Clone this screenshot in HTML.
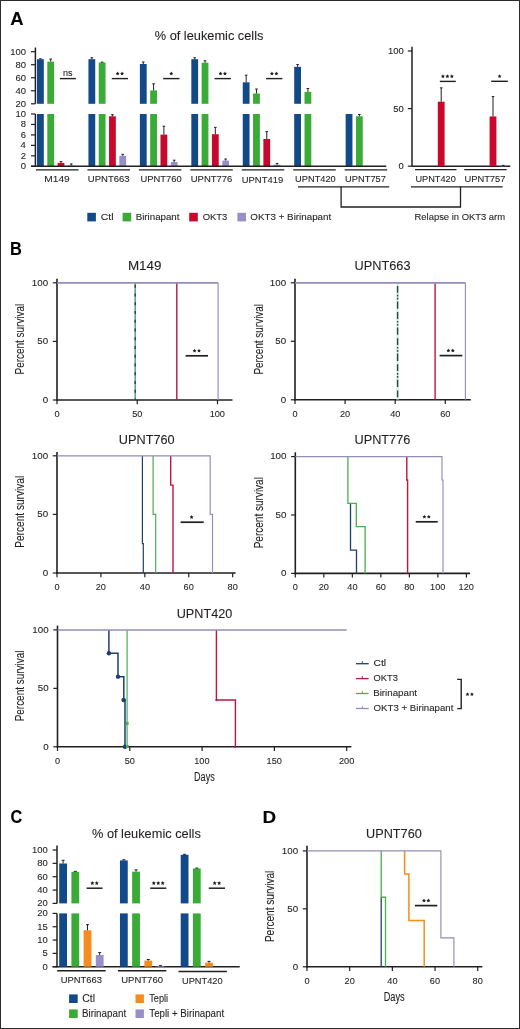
<!DOCTYPE html>
<html><head><meta charset="utf-8"><title>Figure</title>
<style>
html,body{margin:0;padding:0;background:#fff;}
body{width:520px;height:1029px;overflow:hidden;position:relative;font-family:"Liberation Sans",sans-serif;}
.frame{position:absolute;left:0;top:0;width:518px;height:1027px;border:1px solid #2b2b2b;}
svg{position:absolute;left:0;top:0;will-change:transform;}
svg text{font-family:"Liberation Sans",sans-serif;stroke:#231f20;stroke-width:0.1px;paint-order:stroke;}
</style></head>
<body>
<div class="frame"></div>
<svg width="520" height="1029" viewBox="0 0 520 1029">
<text transform="translate(10.14 24.80) scale(1.0092 1)" font-size="18.31" font-weight="bold" fill="#000">A</text>
<text transform="translate(10.10 255.30) scale(0.9098 1)" font-size="18.02" font-weight="bold" fill="#000">B</text>
<text transform="translate(10.54 822.60) scale(0.8852 1)" font-size="18.31" font-weight="bold" fill="#000">C</text>
<text transform="translate(262.53 822.60) scale(1.1415 1)" font-size="16.57" font-weight="bold" fill="#000">D</text>
<text transform="translate(154.74 40.00) scale(0.9667 1)" font-size="13.23" fill="#231f20">% of leukemic cells</text>
<line x1="35.40" y1="47.50" x2="35.40" y2="103.80" stroke="#231f20" stroke-width="1.50"/>
<line x1="35.40" y1="114.00" x2="35.40" y2="166.80" stroke="#231f20" stroke-width="1.50"/>
<line x1="31.00" y1="51.70" x2="35.40" y2="51.70" stroke="#231f20" stroke-width="1.20"/>
<text transform="translate(10.15 54.60) scale(1.0039 1)" font-size="9.45" fill="#231f20">100</text>
<line x1="31.00" y1="64.72" x2="35.40" y2="64.72" stroke="#231f20" stroke-width="1.20"/>
<text transform="translate(15.42 67.62) scale(1.0039 1)" font-size="9.45" fill="#231f20">80</text>
<line x1="31.00" y1="77.75" x2="35.40" y2="77.75" stroke="#231f20" stroke-width="1.20"/>
<text transform="translate(15.42 80.65) scale(1.0039 1)" font-size="9.45" fill="#231f20">60</text>
<line x1="31.00" y1="90.77" x2="35.40" y2="90.77" stroke="#231f20" stroke-width="1.20"/>
<text transform="translate(15.42 93.67) scale(1.0039 1)" font-size="9.45" fill="#231f20">40</text>
<line x1="31.00" y1="103.80" x2="35.40" y2="103.80" stroke="#231f20" stroke-width="1.20"/>
<text transform="translate(15.42 106.70) scale(1.0039 1)" font-size="9.45" fill="#231f20">20</text>
<line x1="31.00" y1="114.00" x2="35.40" y2="114.00" stroke="#231f20" stroke-width="1.20"/>
<text transform="translate(15.42 116.90) scale(1.0039 1)" font-size="9.45" fill="#231f20">10</text>
<line x1="31.00" y1="124.46" x2="35.40" y2="124.46" stroke="#231f20" stroke-width="1.20"/>
<text transform="translate(20.74 127.36) scale(1.0039 1)" font-size="9.45" fill="#231f20">8</text>
<line x1="31.00" y1="134.92" x2="35.40" y2="134.92" stroke="#231f20" stroke-width="1.20"/>
<text transform="translate(20.74 137.82) scale(1.0039 1)" font-size="9.45" fill="#231f20">6</text>
<line x1="31.00" y1="145.38" x2="35.40" y2="145.38" stroke="#231f20" stroke-width="1.20"/>
<text transform="translate(20.60 148.28) scale(1.0039 1)" font-size="9.45" fill="#231f20">4</text>
<line x1="31.00" y1="155.84" x2="35.40" y2="155.84" stroke="#231f20" stroke-width="1.20"/>
<text transform="translate(20.80 158.74) scale(1.0039 1)" font-size="9.45" fill="#231f20">2</text>
<line x1="31.00" y1="166.30" x2="35.40" y2="166.30" stroke="#231f20" stroke-width="1.20"/>
<text transform="translate(20.70 169.20) scale(1.0039 1)" font-size="9.45" fill="#231f20">0</text>
<rect x="37.00" y="59.19" width="6.80" height="44.61" fill="#124a89"/>
<rect x="37.00" y="114.00" width="6.80" height="52.30" fill="#124a89"/>
<line x1="40.40" y1="59.19" x2="40.40" y2="58.80" stroke="#231f20" stroke-width="1.00"/>
<line x1="39.10" y1="58.80" x2="41.70" y2="58.80" stroke="#231f20" stroke-width="1.00"/>
<rect x="47.30" y="61.66" width="6.80" height="42.14" fill="#3aab36"/>
<rect x="47.30" y="114.00" width="6.80" height="52.30" fill="#3aab36"/>
<line x1="50.70" y1="61.66" x2="50.70" y2="59.06" stroke="#231f20" stroke-width="1.00"/>
<line x1="49.40" y1="59.06" x2="52.00" y2="59.06" stroke="#231f20" stroke-width="1.00"/>
<rect x="57.60" y="162.90" width="6.80" height="3.40" fill="#c9092c"/>
<line x1="61.00" y1="162.90" x2="61.00" y2="161.59" stroke="#231f20" stroke-width="1.00"/>
<line x1="59.70" y1="161.59" x2="62.30" y2="161.59" stroke="#231f20" stroke-width="1.00"/>
<rect x="67.90" y="165.52" width="6.80" height="0.78" fill="#978fca"/>
<line x1="71.30" y1="165.52" x2="71.30" y2="163.95" stroke="#231f20" stroke-width="1.00"/>
<line x1="70.00" y1="163.95" x2="72.60" y2="163.95" stroke="#231f20" stroke-width="1.00"/>
<line x1="36.00" y1="169.80" x2="78.50" y2="169.80" stroke="#231f20" stroke-width="1.30"/>
<text transform="translate(44.37 182.00) scale(1.0591 1)" font-size="9.59" fill="#231f20">M149</text>
<line x1="59.90" y1="78.60" x2="75.90" y2="78.60" stroke="#231f20" stroke-width="1.40"/>
<text transform="translate(63.10 75.80) scale(0.9695 1)" font-size="9.30" fill="#231f20">ns</text>
<rect x="88.44" y="59.19" width="6.80" height="44.61" fill="#124a89"/>
<rect x="88.44" y="114.00" width="6.80" height="52.30" fill="#124a89"/>
<line x1="91.84" y1="59.19" x2="91.84" y2="57.75" stroke="#231f20" stroke-width="1.00"/>
<line x1="90.54" y1="57.75" x2="93.14" y2="57.75" stroke="#231f20" stroke-width="1.00"/>
<rect x="98.74" y="62.51" width="6.80" height="41.29" fill="#3aab36"/>
<rect x="98.74" y="114.00" width="6.80" height="52.30" fill="#3aab36"/>
<line x1="102.14" y1="62.51" x2="102.14" y2="62.12" stroke="#231f20" stroke-width="1.00"/>
<line x1="100.84" y1="62.12" x2="103.44" y2="62.12" stroke="#231f20" stroke-width="1.00"/>
<rect x="109.04" y="116.30" width="6.80" height="50.00" fill="#c9092c"/>
<line x1="112.44" y1="116.30" x2="112.44" y2="114.73" stroke="#231f20" stroke-width="1.00"/>
<line x1="111.14" y1="114.73" x2="113.74" y2="114.73" stroke="#231f20" stroke-width="1.00"/>
<rect x="119.34" y="155.84" width="6.80" height="10.46" fill="#978fca"/>
<line x1="122.74" y1="155.84" x2="122.74" y2="154.38" stroke="#231f20" stroke-width="1.00"/>
<line x1="121.44" y1="154.38" x2="124.04" y2="154.38" stroke="#231f20" stroke-width="1.00"/>
<line x1="87.44" y1="169.80" x2="129.94" y2="169.80" stroke="#231f20" stroke-width="1.30"/>
<text transform="translate(87.87 182.10) scale(0.9912 1)" font-size="9.59" fill="#231f20">UPNT663</text>
<line x1="111.74" y1="78.60" x2="128.04" y2="78.60" stroke="#231f20" stroke-width="1.40"/>
<polygon points="117.62,71.50 118.23,72.75 119.61,72.95 118.61,73.92 118.85,75.30 117.62,74.65 116.38,75.30 116.62,73.92 115.62,72.95 117.00,72.75" fill="#231f20"/>
<polygon points="122.07,71.50 122.68,72.75 124.06,72.95 123.06,73.92 123.30,75.30 122.07,74.65 120.83,75.30 121.07,73.92 120.07,72.95 121.45,72.75" fill="#231f20"/>
<rect x="139.88" y="64.01" width="6.80" height="39.79" fill="#124a89"/>
<rect x="139.88" y="114.00" width="6.80" height="52.30" fill="#124a89"/>
<line x1="143.28" y1="64.01" x2="143.28" y2="61.99" stroke="#231f20" stroke-width="1.00"/>
<line x1="141.98" y1="61.99" x2="144.58" y2="61.99" stroke="#231f20" stroke-width="1.00"/>
<rect x="150.18" y="90.38" width="6.80" height="13.42" fill="#3aab36"/>
<rect x="150.18" y="114.00" width="6.80" height="52.30" fill="#3aab36"/>
<line x1="153.58" y1="90.38" x2="153.58" y2="83.81" stroke="#231f20" stroke-width="1.00"/>
<line x1="152.28" y1="83.81" x2="154.88" y2="83.81" stroke="#231f20" stroke-width="1.00"/>
<rect x="160.48" y="134.61" width="6.80" height="31.69" fill="#c9092c"/>
<line x1="163.88" y1="134.61" x2="163.88" y2="126.24" stroke="#231f20" stroke-width="1.00"/>
<line x1="162.58" y1="126.24" x2="165.18" y2="126.24" stroke="#231f20" stroke-width="1.00"/>
<rect x="170.78" y="162.01" width="6.80" height="4.29" fill="#978fca"/>
<line x1="174.18" y1="162.01" x2="174.18" y2="160.18" stroke="#231f20" stroke-width="1.00"/>
<line x1="172.88" y1="160.18" x2="175.48" y2="160.18" stroke="#231f20" stroke-width="1.00"/>
<line x1="138.88" y1="169.80" x2="181.38" y2="169.80" stroke="#231f20" stroke-width="1.30"/>
<text transform="translate(140.47 182.20) scale(0.9804 1)" font-size="9.59" fill="#231f20">UPNT760</text>
<line x1="163.18" y1="78.60" x2="179.48" y2="78.60" stroke="#231f20" stroke-width="1.40"/>
<polygon points="171.28,71.50 171.90,72.75 173.28,72.95 172.28,73.92 172.51,75.30 171.28,74.65 170.05,75.30 170.28,73.92 169.28,72.95 170.66,72.75" fill="#231f20"/>
<rect x="191.32" y="59.19" width="6.80" height="44.61" fill="#124a89"/>
<rect x="191.32" y="114.00" width="6.80" height="52.30" fill="#124a89"/>
<line x1="194.72" y1="59.19" x2="194.72" y2="57.75" stroke="#231f20" stroke-width="1.00"/>
<line x1="193.42" y1="57.75" x2="196.02" y2="57.75" stroke="#231f20" stroke-width="1.00"/>
<rect x="201.62" y="62.70" width="6.80" height="41.10" fill="#3aab36"/>
<rect x="201.62" y="114.00" width="6.80" height="52.30" fill="#3aab36"/>
<line x1="205.02" y1="62.70" x2="205.02" y2="60.81" stroke="#231f20" stroke-width="1.00"/>
<line x1="203.72" y1="60.81" x2="206.32" y2="60.81" stroke="#231f20" stroke-width="1.00"/>
<rect x="211.92" y="134.19" width="6.80" height="32.11" fill="#c9092c"/>
<line x1="215.32" y1="134.19" x2="215.32" y2="127.39" stroke="#231f20" stroke-width="1.00"/>
<line x1="214.02" y1="127.39" x2="216.62" y2="127.39" stroke="#231f20" stroke-width="1.00"/>
<rect x="222.22" y="160.60" width="6.80" height="5.70" fill="#978fca"/>
<line x1="225.62" y1="160.60" x2="225.62" y2="159.03" stroke="#231f20" stroke-width="1.00"/>
<line x1="224.32" y1="159.03" x2="226.92" y2="159.03" stroke="#231f20" stroke-width="1.00"/>
<line x1="190.32" y1="169.80" x2="232.82" y2="169.80" stroke="#231f20" stroke-width="1.30"/>
<text transform="translate(190.77 182.20) scale(0.9888 1)" font-size="9.59" fill="#231f20">UPNT776</text>
<line x1="214.62" y1="78.60" x2="230.92" y2="78.60" stroke="#231f20" stroke-width="1.40"/>
<polygon points="220.50,71.50 221.11,72.75 222.49,72.95 221.49,73.92 221.73,75.30 220.50,74.65 219.26,75.30 219.50,73.92 218.50,72.95 219.88,72.75" fill="#231f20"/>
<polygon points="224.94,71.50 225.56,72.75 226.94,72.95 225.94,73.92 226.18,75.30 224.94,74.65 223.71,75.30 223.95,73.92 222.95,72.95 224.33,72.75" fill="#231f20"/>
<rect x="242.76" y="82.31" width="6.80" height="21.49" fill="#124a89"/>
<rect x="242.76" y="114.00" width="6.80" height="52.30" fill="#124a89"/>
<line x1="246.16" y1="82.31" x2="246.16" y2="75.21" stroke="#231f20" stroke-width="1.00"/>
<line x1="244.86" y1="75.21" x2="247.46" y2="75.21" stroke="#231f20" stroke-width="1.00"/>
<rect x="253.06" y="93.51" width="6.80" height="10.29" fill="#3aab36"/>
<rect x="253.06" y="114.00" width="6.80" height="52.30" fill="#3aab36"/>
<line x1="256.46" y1="93.51" x2="256.46" y2="89.02" stroke="#231f20" stroke-width="1.00"/>
<line x1="255.16" y1="89.02" x2="257.76" y2="89.02" stroke="#231f20" stroke-width="1.00"/>
<rect x="263.36" y="139.00" width="6.80" height="27.30" fill="#c9092c"/>
<line x1="266.76" y1="139.00" x2="266.76" y2="131.68" stroke="#231f20" stroke-width="1.00"/>
<line x1="265.46" y1="131.68" x2="268.06" y2="131.68" stroke="#231f20" stroke-width="1.00"/>
<rect x="273.66" y="164.73" width="6.80" height="1.57" fill="#978fca"/>
<line x1="277.06" y1="164.73" x2="277.06" y2="163.42" stroke="#231f20" stroke-width="1.00"/>
<line x1="275.76" y1="163.42" x2="278.36" y2="163.42" stroke="#231f20" stroke-width="1.00"/>
<line x1="241.76" y1="169.80" x2="284.26" y2="169.80" stroke="#231f20" stroke-width="1.30"/>
<text transform="translate(241.77 182.90) scale(0.9847 1)" font-size="9.59" fill="#231f20">UPNT419</text>
<line x1="266.06" y1="78.60" x2="282.36" y2="78.60" stroke="#231f20" stroke-width="1.40"/>
<polygon points="271.93,71.50 272.55,72.75 273.93,72.95 272.93,73.92 273.17,75.30 271.93,74.65 270.70,75.30 270.94,73.92 269.94,72.95 271.32,72.75" fill="#231f20"/>
<polygon points="276.38,71.50 277.00,72.75 278.38,72.95 277.38,73.92 277.62,75.30 276.38,74.65 275.15,75.30 275.39,73.92 274.39,72.95 275.77,72.75" fill="#231f20"/>
<rect x="294.20" y="66.87" width="6.80" height="36.93" fill="#124a89"/>
<rect x="294.20" y="114.00" width="6.80" height="52.30" fill="#124a89"/>
<line x1="297.60" y1="66.87" x2="297.60" y2="64.59" stroke="#231f20" stroke-width="1.00"/>
<line x1="296.30" y1="64.59" x2="298.90" y2="64.59" stroke="#231f20" stroke-width="1.00"/>
<rect x="304.50" y="91.88" width="6.80" height="11.92" fill="#3aab36"/>
<rect x="304.50" y="114.00" width="6.80" height="52.30" fill="#3aab36"/>
<line x1="307.90" y1="91.88" x2="307.90" y2="88.49" stroke="#231f20" stroke-width="1.00"/>
<line x1="306.60" y1="88.49" x2="309.20" y2="88.49" stroke="#231f20" stroke-width="1.00"/>
<line x1="293.20" y1="169.80" x2="335.70" y2="169.80" stroke="#231f20" stroke-width="1.30"/>
<text transform="translate(295.08 182.40) scale(0.9682 1)" font-size="9.59" fill="#231f20">UPNT420</text>
<rect x="345.64" y="114.00" width="6.80" height="52.30" fill="#124a89"/>
<rect x="355.94" y="116.30" width="6.80" height="50.00" fill="#3aab36"/>
<line x1="359.34" y1="116.30" x2="359.34" y2="114.47" stroke="#231f20" stroke-width="1.00"/>
<line x1="358.04" y1="114.47" x2="360.64" y2="114.47" stroke="#231f20" stroke-width="1.00"/>
<line x1="344.64" y1="169.80" x2="387.14" y2="169.80" stroke="#231f20" stroke-width="1.30"/>
<text transform="translate(345.08 182.20) scale(0.9707 1)" font-size="9.59" fill="#231f20">UPNT757</text>
<line x1="31.00" y1="166.30" x2="386.20" y2="166.30" stroke="#231f20" stroke-width="1.50"/>
<line x1="412.00" y1="46.70" x2="412.00" y2="166.20" stroke="#231f20" stroke-width="1.50"/>
<line x1="407.80" y1="51.00" x2="412.00" y2="51.00" stroke="#231f20" stroke-width="1.20"/>
<text transform="translate(387.95 53.90) scale(1.0039 1)" font-size="9.45" fill="#231f20">100</text>
<line x1="407.80" y1="108.60" x2="412.00" y2="108.60" stroke="#231f20" stroke-width="1.20"/>
<text transform="translate(393.22 111.50) scale(1.0039 1)" font-size="9.45" fill="#231f20">50</text>
<line x1="407.80" y1="166.20" x2="412.00" y2="166.20" stroke="#231f20" stroke-width="1.20"/>
<text transform="translate(398.50 169.10) scale(1.0039 1)" font-size="9.45" fill="#231f20">0</text>
<line x1="412.00" y1="166.20" x2="510.30" y2="166.20" stroke="#231f20" stroke-width="1.50"/>
<rect x="437.80" y="101.69" width="6.80" height="64.51" fill="#c9092c"/>
<line x1="441.20" y1="101.69" x2="441.20" y2="87.86" stroke="#231f20" stroke-width="1.00"/>
<line x1="439.90" y1="87.86" x2="442.50" y2="87.86" stroke="#231f20" stroke-width="1.00"/>
<rect x="489.60" y="116.43" width="6.80" height="49.77" fill="#c9092c"/>
<line x1="493.00" y1="116.43" x2="493.00" y2="96.62" stroke="#231f20" stroke-width="1.00"/>
<line x1="491.70" y1="96.62" x2="494.30" y2="96.62" stroke="#231f20" stroke-width="1.00"/>
<rect x="500.20" y="165.85" width="6.60" height="0.35" fill="#978fca"/>
<line x1="503.30" y1="165.85" x2="503.30" y2="165.39" stroke="#231f20" stroke-width="1.00"/>
<line x1="502.00" y1="165.39" x2="504.60" y2="165.39" stroke="#231f20" stroke-width="1.00"/>
<line x1="439.80" y1="81.40" x2="455.80" y2="81.40" stroke="#231f20" stroke-width="1.40"/>
<polygon points="442.95,74.30 443.57,75.55 444.95,75.75 443.95,76.72 444.18,78.10 442.95,77.45 441.72,78.10 441.95,76.72 440.95,75.75 442.33,75.55" fill="#231f20"/>
<polygon points="447.40,74.30 448.02,75.55 449.40,75.75 448.40,76.72 448.63,78.10 447.40,77.45 446.17,78.10 446.40,76.72 445.40,75.75 446.78,75.55" fill="#231f20"/>
<polygon points="451.85,74.30 452.47,75.55 453.85,75.75 452.85,76.72 453.08,78.10 451.85,77.45 450.62,78.10 450.85,76.72 449.85,75.75 451.23,75.55" fill="#231f20"/>
<line x1="491.20" y1="81.30" x2="507.80" y2="81.30" stroke="#231f20" stroke-width="1.40"/>
<polygon points="499.60,74.20 500.22,75.45 501.60,75.65 500.60,76.62 500.83,78.00 499.60,77.35 498.37,78.00 498.60,76.62 497.60,75.65 498.98,75.45" fill="#231f20"/>
<line x1="415.00" y1="169.70" x2="456.50" y2="169.70" stroke="#231f20" stroke-width="1.30"/>
<line x1="464.20" y1="169.70" x2="506.60" y2="169.70" stroke="#231f20" stroke-width="1.30"/>
<text transform="translate(415.49 182.40) scale(0.9584 1)" font-size="9.59" fill="#231f20">UPNT420</text>
<text transform="translate(464.48 182.40) scale(0.9732 1)" font-size="9.59" fill="#231f20">UPNT757</text>
<line x1="298.00" y1="186.80" x2="389.20" y2="186.80" stroke="#231f20" stroke-width="1.30"/>
<line x1="411.00" y1="186.80" x2="502.70" y2="186.80" stroke="#231f20" stroke-width="1.30"/>
<path d="M341.1 186.8 V207.0 H460.5 V186.8" fill="none" stroke="#231f20" stroke-width="1.30"/>
<text transform="translate(414.53 219.50) scale(0.9995 1)" font-size="9.45" fill="#231f20">Relapse in OKT3 arm</text>
<rect x="87.30" y="212.80" width="8.60" height="8.60" fill="#124a89"/>
<text transform="translate(100.67 220.00) scale(1.1116 1)" font-size="9.45" fill="#231f20">Ctl</text>
<rect x="122.60" y="212.80" width="8.60" height="8.60" fill="#3aab36"/>
<text transform="translate(135.70 220.00) scale(1.0288 1)" font-size="9.45" fill="#231f20">Birinapant</text>
<rect x="189.20" y="212.80" width="8.60" height="8.60" fill="#c9092c"/>
<text transform="translate(202.75 220.00) scale(0.9994 1)" font-size="9.45" fill="#231f20">OKT3</text>
<rect x="237.40" y="212.80" width="8.60" height="8.60" fill="#978fca"/>
<text transform="translate(250.34 220.00) scale(1.0378 1)" font-size="9.45" fill="#231f20">OKT3 + Birinapant</text>
<line x1="57.00" y1="278.70" x2="57.00" y2="400.80" stroke="#231f20" stroke-width="1.60"/>
<line x1="56.20" y1="400.00" x2="232.50" y2="400.00" stroke="#231f20" stroke-width="1.60"/>
<line x1="52.80" y1="282.80" x2="57.00" y2="282.80" stroke="#231f20" stroke-width="1.20"/>
<text transform="translate(31.86 285.60) scale(1.0200 1)" font-size="9.59" fill="#231f20">100</text>
<line x1="52.80" y1="341.40" x2="57.00" y2="341.40" stroke="#231f20" stroke-width="1.20"/>
<text transform="translate(37.30 344.20) scale(1.0200 1)" font-size="9.59" fill="#231f20">50</text>
<line x1="52.80" y1="400.00" x2="57.00" y2="400.00" stroke="#231f20" stroke-width="1.20"/>
<text transform="translate(42.74 402.80) scale(1.0200 1)" font-size="9.59" fill="#231f20">0</text>
<line x1="57.00" y1="400.00" x2="57.00" y2="404.20" stroke="#231f20" stroke-width="1.20"/>
<text transform="translate(54.44 416.90) scale(0.9300 1)" font-size="9.88" fill="#231f20">0</text>
<line x1="137.25" y1="400.00" x2="137.25" y2="404.20" stroke="#231f20" stroke-width="1.20"/>
<text transform="translate(132.13 416.90) scale(0.9300 1)" font-size="9.88" fill="#231f20">50</text>
<line x1="217.50" y1="400.00" x2="217.50" y2="404.20" stroke="#231f20" stroke-width="1.20"/>
<text transform="translate(209.66 416.90) scale(0.9300 1)" font-size="9.88" fill="#231f20">100</text>
<text transform="translate(127.90 270.00) scale(1.0758 1)" font-size="12.50" fill="#231f20">M149</text>
<text transform="translate(24.40 373.60) rotate(-90) scale(0.7606 1) translate(-1.07 0)" font-size="13.08" fill="#231f20">Percent survival</text>
<path d="M176.80 282.80 L176.80 400.00" fill="none" stroke="#b9173f" stroke-width="1.40" stroke-linejoin="miter"/>
<line x1="135.20" y1="282.80" x2="135.20" y2="400.00" stroke="#4c9c7c" stroke-width="1.40"/>
<line x1="135.20" y1="284.80" x2="135.20" y2="400.00" stroke="#1c4b3c" stroke-width="1.40" stroke-dasharray="3 5.75"/>
<line x1="185.60" y1="355.80" x2="208.00" y2="355.80" stroke="#231f20" stroke-width="1.70"/>
<polygon points="194.58,348.70 195.19,349.95 196.57,350.15 195.57,351.12 195.81,352.50 194.58,351.85 193.34,352.50 193.58,351.12 192.58,350.15 193.96,349.95" fill="#231f20"/>
<polygon points="199.03,348.70 199.64,349.95 201.02,350.15 200.02,351.12 200.26,352.50 199.03,351.85 197.79,352.50 198.03,351.12 197.03,350.15 198.41,349.95" fill="#231f20"/>
<line x1="295.00" y1="278.70" x2="295.00" y2="400.60" stroke="#231f20" stroke-width="1.60"/>
<line x1="294.20" y1="399.80" x2="470.80" y2="399.80" stroke="#231f20" stroke-width="1.60"/>
<line x1="290.80" y1="282.80" x2="295.00" y2="282.80" stroke="#231f20" stroke-width="1.20"/>
<text transform="translate(269.86 285.60) scale(1.0200 1)" font-size="9.59" fill="#231f20">100</text>
<line x1="290.80" y1="341.30" x2="295.00" y2="341.30" stroke="#231f20" stroke-width="1.20"/>
<text transform="translate(275.30 344.10) scale(1.0200 1)" font-size="9.59" fill="#231f20">50</text>
<line x1="290.80" y1="399.80" x2="295.00" y2="399.80" stroke="#231f20" stroke-width="1.20"/>
<text transform="translate(280.74 402.60) scale(1.0200 1)" font-size="9.59" fill="#231f20">0</text>
<line x1="295.00" y1="399.80" x2="295.00" y2="404.00" stroke="#231f20" stroke-width="1.20"/>
<text transform="translate(292.44 416.70) scale(0.9300 1)" font-size="9.88" fill="#231f20">0</text>
<line x1="345.10" y1="399.80" x2="345.10" y2="404.00" stroke="#231f20" stroke-width="1.20"/>
<text transform="translate(339.94 416.70) scale(0.9300 1)" font-size="9.88" fill="#231f20">20</text>
<line x1="395.20" y1="399.80" x2="395.20" y2="404.00" stroke="#231f20" stroke-width="1.20"/>
<text transform="translate(390.16 416.70) scale(0.9300 1)" font-size="9.88" fill="#231f20">40</text>
<line x1="445.30" y1="399.80" x2="445.30" y2="404.00" stroke="#231f20" stroke-width="1.20"/>
<text transform="translate(440.13 416.70) scale(0.9300 1)" font-size="9.88" fill="#231f20">60</text>
<text transform="translate(354.62 270.30) scale(1.0193 1)" font-size="12.50" fill="#231f20">UPNT663</text>
<text transform="translate(262.80 373.80) rotate(-90) scale(0.7595 1) translate(-1.07 0)" font-size="13.08" fill="#231f20">Percent survival</text>
<path d="M435.10 282.80 L435.10 399.80" fill="none" stroke="#b9173f" stroke-width="1.40" stroke-linejoin="miter"/>
<line x1="397.60" y1="283.80" x2="397.60" y2="399.80" stroke="#cfeadf" stroke-width="2.20"/>
<line x1="397.60" y1="285.20" x2="397.60" y2="399.80" stroke="#2a4a3c" stroke-width="1.40" stroke-dasharray="1.6 1.4 1.7 1.9 7.3 3.4 6.8 2.0" stroke-dashoffset="16.5"/>
<line x1="439.60" y1="355.60" x2="462.30" y2="355.60" stroke="#231f20" stroke-width="1.70"/>
<polygon points="448.38,348.50 448.99,349.75 450.37,349.95 449.37,350.92 449.61,352.30 448.38,351.65 447.14,352.30 447.38,350.92 446.38,349.95 447.76,349.75" fill="#231f20"/>
<polygon points="452.82,348.50 453.44,349.75 454.82,349.95 453.82,350.92 454.06,352.30 452.82,351.65 451.59,352.30 451.83,350.92 450.83,349.95 452.21,349.75" fill="#231f20"/>
<line x1="57.00" y1="452.00" x2="57.00" y2="573.80" stroke="#231f20" stroke-width="1.60"/>
<line x1="56.20" y1="573.00" x2="235.60" y2="573.00" stroke="#231f20" stroke-width="1.60"/>
<line x1="52.80" y1="455.80" x2="57.00" y2="455.80" stroke="#231f20" stroke-width="1.20"/>
<text transform="translate(31.86 458.60) scale(1.0200 1)" font-size="9.59" fill="#231f20">100</text>
<line x1="52.80" y1="514.40" x2="57.00" y2="514.40" stroke="#231f20" stroke-width="1.20"/>
<text transform="translate(37.30 517.20) scale(1.0200 1)" font-size="9.59" fill="#231f20">50</text>
<line x1="52.80" y1="573.00" x2="57.00" y2="573.00" stroke="#231f20" stroke-width="1.20"/>
<text transform="translate(42.74 575.80) scale(1.0200 1)" font-size="9.59" fill="#231f20">0</text>
<line x1="57.00" y1="573.00" x2="57.00" y2="577.20" stroke="#231f20" stroke-width="1.20"/>
<text transform="translate(54.44 589.90) scale(0.9300 1)" font-size="9.88" fill="#231f20">0</text>
<line x1="100.92" y1="573.00" x2="100.92" y2="577.20" stroke="#231f20" stroke-width="1.20"/>
<text transform="translate(95.76 589.90) scale(0.9300 1)" font-size="9.88" fill="#231f20">20</text>
<line x1="144.84" y1="573.00" x2="144.84" y2="577.20" stroke="#231f20" stroke-width="1.20"/>
<text transform="translate(139.80 589.90) scale(0.9300 1)" font-size="9.88" fill="#231f20">40</text>
<line x1="188.76" y1="573.00" x2="188.76" y2="577.20" stroke="#231f20" stroke-width="1.20"/>
<text transform="translate(183.59 589.90) scale(0.9300 1)" font-size="9.88" fill="#231f20">60</text>
<line x1="232.68" y1="573.00" x2="232.68" y2="577.20" stroke="#231f20" stroke-width="1.20"/>
<text transform="translate(227.55 589.90) scale(0.9300 1)" font-size="9.88" fill="#231f20">80</text>
<text transform="translate(118.82 443.50) scale(1.0301 1)" font-size="12.35" fill="#231f20">UPNT760</text>
<text transform="translate(24.40 547.00) rotate(-90) scale(0.7760 1) translate(-1.07 0)" font-size="13.08" fill="#231f20">Percent survival</text>
<path d="M170.70 455.80 L170.70 485.10 L173.00 485.10 L173.00 573.00" fill="none" stroke="#b9173f" stroke-width="1.40" stroke-linejoin="miter"/>
<path d="M153.10 455.80 L153.10 514.40 L155.70 514.40 L155.70 573.00" fill="none" stroke="#4ab04e" stroke-width="1.20" stroke-linejoin="miter"/>
<path d="M142.40 455.80 L142.40 543.70 L143.30 543.70 L143.30 573.00" fill="none" stroke="#1f3f70" stroke-width="1.20" stroke-linejoin="miter"/>
<line x1="180.60" y1="522.20" x2="203.70" y2="522.20" stroke="#231f20" stroke-width="1.70"/>
<polygon points="191.60,515.10 192.22,516.35 193.60,516.55 192.60,517.52 192.83,518.90 191.60,518.25 190.37,518.90 190.60,517.52 189.60,516.55 190.98,516.35" fill="#231f20"/>
<line x1="295.30" y1="452.30" x2="295.30" y2="574.20" stroke="#231f20" stroke-width="1.60"/>
<line x1="294.50" y1="573.40" x2="470.00" y2="573.40" stroke="#231f20" stroke-width="1.60"/>
<line x1="291.10" y1="456.60" x2="295.30" y2="456.60" stroke="#231f20" stroke-width="1.20"/>
<text transform="translate(270.16 459.40) scale(1.0200 1)" font-size="9.59" fill="#231f20">100</text>
<line x1="291.10" y1="515.00" x2="295.30" y2="515.00" stroke="#231f20" stroke-width="1.20"/>
<text transform="translate(275.60 517.80) scale(1.0200 1)" font-size="9.59" fill="#231f20">50</text>
<line x1="291.10" y1="573.40" x2="295.30" y2="573.40" stroke="#231f20" stroke-width="1.20"/>
<text transform="translate(281.04 576.20) scale(1.0200 1)" font-size="9.59" fill="#231f20">0</text>
<line x1="295.30" y1="573.40" x2="295.30" y2="577.60" stroke="#231f20" stroke-width="1.20"/>
<text transform="translate(292.74 590.30) scale(0.9300 1)" font-size="9.88" fill="#231f20">0</text>
<line x1="323.82" y1="573.40" x2="323.82" y2="577.60" stroke="#231f20" stroke-width="1.20"/>
<text transform="translate(318.66 590.30) scale(0.9300 1)" font-size="9.88" fill="#231f20">20</text>
<line x1="352.34" y1="573.40" x2="352.34" y2="577.60" stroke="#231f20" stroke-width="1.20"/>
<text transform="translate(347.30 590.30) scale(0.9300 1)" font-size="9.88" fill="#231f20">40</text>
<line x1="380.86" y1="573.40" x2="380.86" y2="577.60" stroke="#231f20" stroke-width="1.20"/>
<text transform="translate(375.69 590.30) scale(0.9300 1)" font-size="9.88" fill="#231f20">60</text>
<line x1="409.38" y1="573.40" x2="409.38" y2="577.60" stroke="#231f20" stroke-width="1.20"/>
<text transform="translate(404.25 590.30) scale(0.9300 1)" font-size="9.88" fill="#231f20">80</text>
<line x1="437.90" y1="573.40" x2="437.90" y2="577.60" stroke="#231f20" stroke-width="1.20"/>
<text transform="translate(430.06 590.30) scale(0.9300 1)" font-size="9.88" fill="#231f20">100</text>
<line x1="466.42" y1="573.40" x2="466.42" y2="577.60" stroke="#231f20" stroke-width="1.20"/>
<text transform="translate(458.58 590.30) scale(0.9300 1)" font-size="9.88" fill="#231f20">120</text>
<text transform="translate(354.52 444.00) scale(1.0294 1)" font-size="12.35" fill="#231f20">UPNT776</text>
<text transform="translate(262.80 547.50) rotate(-90) scale(0.7661 1) translate(-1.07 0)" font-size="13.08" fill="#231f20">Percent survival</text>
<path d="M406.80 456.60 L406.80 479.96 L407.60 479.96 L407.60 573.40" fill="none" stroke="#b9173f" stroke-width="1.40" stroke-linejoin="miter"/>
<path d="M350.50 503.32 L350.50 550.04 L356.50 550.04 L356.50 573.40" fill="none" stroke="#1f3f70" stroke-width="1.30" stroke-linejoin="miter"/>
<path d="M347.90 456.60 L347.90 503.32 L356.30 503.32 L356.30 526.68 L365.10 526.68 L365.10 573.40" fill="none" stroke="#4ab04e" stroke-width="1.30" stroke-linejoin="miter"/>
<line x1="415.75" y1="521.80" x2="437.70" y2="521.80" stroke="#231f20" stroke-width="1.70"/>
<polygon points="424.38,514.70 424.99,515.95 426.37,516.15 425.37,517.12 425.61,518.50 424.38,517.85 423.14,518.50 423.38,517.12 422.38,516.15 423.76,515.95" fill="#231f20"/>
<polygon points="428.82,514.70 429.44,515.95 430.82,516.15 429.82,517.12 430.06,518.50 428.82,517.85 427.59,518.50 427.83,517.12 426.83,516.15 428.21,515.95" fill="#231f20"/>
<line x1="57.50" y1="625.60" x2="57.50" y2="747.60" stroke="#231f20" stroke-width="1.60"/>
<line x1="56.70" y1="746.80" x2="351.40" y2="746.80" stroke="#231f20" stroke-width="1.60"/>
<line x1="53.30" y1="629.90" x2="57.50" y2="629.90" stroke="#231f20" stroke-width="1.20"/>
<text transform="translate(32.36 632.70) scale(1.0200 1)" font-size="9.59" fill="#231f20">100</text>
<line x1="53.30" y1="688.35" x2="57.50" y2="688.35" stroke="#231f20" stroke-width="1.20"/>
<text transform="translate(37.80 691.15) scale(1.0200 1)" font-size="9.59" fill="#231f20">50</text>
<line x1="53.30" y1="746.80" x2="57.50" y2="746.80" stroke="#231f20" stroke-width="1.20"/>
<text transform="translate(43.24 749.60) scale(1.0200 1)" font-size="9.59" fill="#231f20">0</text>
<line x1="57.50" y1="746.80" x2="57.50" y2="751.00" stroke="#231f20" stroke-width="1.20"/>
<text transform="translate(54.94 763.70) scale(0.9300 1)" font-size="9.88" fill="#231f20">0</text>
<line x1="129.80" y1="746.80" x2="129.80" y2="751.00" stroke="#231f20" stroke-width="1.20"/>
<text transform="translate(124.68 763.70) scale(0.9300 1)" font-size="9.88" fill="#231f20">50</text>
<line x1="202.10" y1="746.80" x2="202.10" y2="751.00" stroke="#231f20" stroke-width="1.20"/>
<text transform="translate(194.26 763.70) scale(0.9300 1)" font-size="9.88" fill="#231f20">100</text>
<line x1="274.40" y1="746.80" x2="274.40" y2="751.00" stroke="#231f20" stroke-width="1.20"/>
<text transform="translate(266.56 763.70) scale(0.9300 1)" font-size="9.88" fill="#231f20">150</text>
<line x1="346.70" y1="746.80" x2="346.70" y2="751.00" stroke="#231f20" stroke-width="1.20"/>
<text transform="translate(338.98 763.70) scale(0.9300 1)" font-size="9.88" fill="#231f20">200</text>
<text transform="translate(176.72 617.70) scale(1.0244 1)" font-size="12.35" fill="#231f20">UPNT420</text>
<text transform="translate(24.30 720.50) rotate(-90) scale(0.7606 1) translate(-1.07 0)" font-size="13.08" fill="#231f20">Percent survival</text>
<text transform="translate(194.06 781.20) scale(0.7613 1)" font-size="11.92" fill="#231f20">Days</text>
<path d="M216.40 629.90 L216.40 700.04 L235.40 700.04 L235.40 746.80" fill="none" stroke="#b9173f" stroke-width="1.40" stroke-linejoin="miter"/>
<path d="M108.90 629.90 L108.90 653.28 L118.00 653.28 L118.00 676.66 L123.80 676.66 L123.80 700.04 L125.00 700.04 L125.00 746.80" fill="none" stroke="#1f3f70" stroke-width="1.50" stroke-linejoin="miter"/>
<circle cx="108.90" cy="653.28" r="2.2" fill="#1f3f70"/>
<circle cx="118.00" cy="676.66" r="2.2" fill="#1f3f70"/>
<circle cx="123.60" cy="700.04" r="2.2" fill="#1f3f70"/>
<circle cx="125.00" cy="746.80" r="2.2" fill="#1f3f70"/>
<path d="M127.10 629.90 L127.10 746.80" fill="none" stroke="#4ab04e" stroke-width="1.20" stroke-linejoin="miter"/>
<rect x="125.90" y="721.92" width="2.80" height="3.00" fill="#4ab04e"/>
<rect x="125.90" y="745.00" width="2.80" height="2.80" fill="#4ab04e"/>
<circle cx="216.4" cy="700.04" r="1.1" fill="#b9173f"/>
<circle cx="235.4" cy="746.80" r="1.1" fill="#b9173f"/>
<line x1="356.00" y1="663.70" x2="368.70" y2="663.70" stroke="#1f3f70" stroke-width="1.30"/>
<line x1="362.30" y1="661.10" x2="362.30" y2="663.70" stroke="#1f3f70" stroke-width="0.90"/>
<line x1="356.00" y1="678.60" x2="368.70" y2="678.60" stroke="#b9173f" stroke-width="1.30"/>
<line x1="362.30" y1="676.00" x2="362.30" y2="678.60" stroke="#b9173f" stroke-width="0.90"/>
<line x1="356.00" y1="693.50" x2="368.70" y2="693.50" stroke="#4ab04e" stroke-width="1.30"/>
<line x1="362.30" y1="690.90" x2="362.30" y2="693.50" stroke="#4ab04e" stroke-width="0.90"/>
<line x1="356.00" y1="708.50" x2="368.70" y2="708.50" stroke="#928eb8" stroke-width="1.30"/>
<line x1="362.30" y1="705.90" x2="362.30" y2="708.50" stroke="#928eb8" stroke-width="0.90"/>
<text transform="translate(373.48 666.30) scale(1.1095 1)" font-size="9.30" fill="#231f20">Ctl</text>
<text transform="translate(373.56 681.10) scale(1.0065 1)" font-size="9.30" fill="#231f20">OKT3</text>
<text transform="translate(373.20 695.90) scale(1.0473 1)" font-size="9.30" fill="#231f20">Birinapant</text>
<text transform="translate(373.54 710.80) scale(1.0409 1)" font-size="9.30" fill="#231f20">OKT3 + Birinapant</text>
<path d="M457.2 679.4 H461.2 V708.6 H457.2" fill="none" stroke="#231f20" stroke-width="1.40"/>
<polygon points="467.47,692.20 468.09,693.45 469.47,693.65 468.47,694.62 468.71,696.00 467.47,695.35 466.24,696.00 466.48,694.62 465.48,693.65 466.86,693.45" fill="#231f20"/>
<polygon points="471.92,692.20 472.54,693.45 473.92,693.65 472.92,694.62 473.16,696.00 471.92,695.35 470.69,696.00 470.93,694.62 469.93,693.65 471.31,693.45" fill="#231f20"/>
<text transform="translate(91.94 838.00) scale(0.9684 1)" font-size="13.23" fill="#231f20">% of leukemic cells</text>
<line x1="57.00" y1="845.40" x2="57.00" y2="903.40" stroke="#231f20" stroke-width="1.50"/>
<line x1="57.00" y1="913.40" x2="57.00" y2="967.20" stroke="#231f20" stroke-width="1.50"/>
<line x1="52.60" y1="850.00" x2="57.00" y2="850.00" stroke="#231f20" stroke-width="1.20"/>
<text transform="translate(32.05 852.90) scale(1.0039 1)" font-size="9.45" fill="#231f20">100</text>
<line x1="52.60" y1="863.35" x2="57.00" y2="863.35" stroke="#231f20" stroke-width="1.20"/>
<text transform="translate(37.32 866.25) scale(1.0039 1)" font-size="9.45" fill="#231f20">80</text>
<line x1="52.60" y1="876.70" x2="57.00" y2="876.70" stroke="#231f20" stroke-width="1.20"/>
<text transform="translate(37.32 879.60) scale(1.0039 1)" font-size="9.45" fill="#231f20">60</text>
<line x1="52.60" y1="890.05" x2="57.00" y2="890.05" stroke="#231f20" stroke-width="1.20"/>
<text transform="translate(37.32 892.95) scale(1.0039 1)" font-size="9.45" fill="#231f20">40</text>
<line x1="52.60" y1="903.40" x2="57.00" y2="903.40" stroke="#231f20" stroke-width="1.20"/>
<text transform="translate(37.32 906.30) scale(1.0039 1)" font-size="9.45" fill="#231f20">20</text>
<line x1="52.60" y1="913.40" x2="57.00" y2="913.40" stroke="#231f20" stroke-width="1.20"/>
<text transform="translate(37.32 916.30) scale(1.0039 1)" font-size="9.45" fill="#231f20">20</text>
<line x1="52.60" y1="926.73" x2="57.00" y2="926.73" stroke="#231f20" stroke-width="1.20"/>
<text transform="translate(37.35 929.62) scale(1.0039 1)" font-size="9.45" fill="#231f20">15</text>
<line x1="52.60" y1="940.05" x2="57.00" y2="940.05" stroke="#231f20" stroke-width="1.20"/>
<text transform="translate(37.32 942.95) scale(1.0039 1)" font-size="9.45" fill="#231f20">10</text>
<line x1="52.60" y1="953.38" x2="57.00" y2="953.38" stroke="#231f20" stroke-width="1.20"/>
<text transform="translate(42.62 956.27) scale(1.0039 1)" font-size="9.45" fill="#231f20">5</text>
<line x1="52.60" y1="966.70" x2="57.00" y2="966.70" stroke="#231f20" stroke-width="1.20"/>
<text transform="translate(42.60 969.60) scale(1.0039 1)" font-size="9.45" fill="#231f20">0</text>
<line x1="52.60" y1="966.70" x2="239.70" y2="966.70" stroke="#231f20" stroke-width="1.50"/>
<rect x="59.20" y="863.48" width="7.80" height="39.92" fill="#124a89"/>
<rect x="59.20" y="913.40" width="7.80" height="53.30" fill="#124a89"/>
<line x1="63.10" y1="863.48" x2="63.10" y2="860.28" stroke="#231f20" stroke-width="1.00"/>
<line x1="61.60" y1="860.28" x2="64.60" y2="860.28" stroke="#231f20" stroke-width="1.00"/>
<rect x="71.40" y="871.83" width="7.80" height="31.57" fill="#3aab36"/>
<rect x="71.40" y="913.40" width="7.80" height="53.30" fill="#3aab36"/>
<line x1="75.30" y1="871.83" x2="75.30" y2="871.36" stroke="#231f20" stroke-width="1.00"/>
<line x1="73.80" y1="871.36" x2="76.80" y2="871.36" stroke="#231f20" stroke-width="1.00"/>
<rect x="83.60" y="930.30" width="7.80" height="36.40" fill="#f68b1f"/>
<line x1="87.50" y1="930.30" x2="87.50" y2="924.70" stroke="#231f20" stroke-width="1.00"/>
<line x1="86.00" y1="924.70" x2="89.00" y2="924.70" stroke="#231f20" stroke-width="1.00"/>
<rect x="95.80" y="955.00" width="7.80" height="11.70" fill="#978fca"/>
<line x1="99.70" y1="955.00" x2="99.70" y2="952.60" stroke="#231f20" stroke-width="1.00"/>
<line x1="98.20" y1="952.60" x2="101.20" y2="952.60" stroke="#231f20" stroke-width="1.00"/>
<line x1="57.20" y1="970.80" x2="105.70" y2="970.80" stroke="#231f20" stroke-width="1.40"/>
<text transform="translate(60.67 983.30) scale(0.9815 1)" font-size="9.59" fill="#231f20">UPNT663</text>
<line x1="86.60" y1="888.20" x2="102.50" y2="888.20" stroke="#231f20" stroke-width="1.50"/>
<polygon points="92.33,881.10 92.94,882.35 94.32,882.55 93.32,883.52 93.56,884.90 92.33,884.25 91.09,884.90 91.33,883.52 90.33,882.55 91.71,882.35" fill="#231f20"/>
<polygon points="96.78,881.10 97.39,882.35 98.77,882.55 97.77,883.52 98.01,884.90 96.78,884.25 95.54,884.90 95.78,883.52 94.78,882.55 96.16,882.35" fill="#231f20"/>
<rect x="119.95" y="860.41" width="7.80" height="42.99" fill="#124a89"/>
<rect x="119.95" y="913.40" width="7.80" height="53.30" fill="#124a89"/>
<line x1="123.85" y1="860.41" x2="123.85" y2="859.75" stroke="#231f20" stroke-width="1.00"/>
<line x1="122.35" y1="859.75" x2="125.35" y2="859.75" stroke="#231f20" stroke-width="1.00"/>
<rect x="132.15" y="871.69" width="7.80" height="31.71" fill="#3aab36"/>
<rect x="132.15" y="913.40" width="7.80" height="53.30" fill="#3aab36"/>
<line x1="136.05" y1="871.69" x2="136.05" y2="869.82" stroke="#231f20" stroke-width="1.00"/>
<line x1="134.55" y1="869.82" x2="137.55" y2="869.82" stroke="#231f20" stroke-width="1.00"/>
<rect x="144.35" y="960.60" width="7.80" height="6.10" fill="#f68b1f"/>
<line x1="148.25" y1="960.60" x2="148.25" y2="959.53" stroke="#231f20" stroke-width="1.00"/>
<line x1="146.75" y1="959.53" x2="149.75" y2="959.53" stroke="#231f20" stroke-width="1.00"/>
<rect x="156.55" y="966.03" width="7.80" height="0.67" fill="#978fca"/>
<line x1="160.45" y1="966.03" x2="160.45" y2="965.63" stroke="#231f20" stroke-width="1.00"/>
<line x1="158.95" y1="965.63" x2="161.95" y2="965.63" stroke="#231f20" stroke-width="1.00"/>
<line x1="117.90" y1="970.80" x2="166.30" y2="970.80" stroke="#231f20" stroke-width="1.40"/>
<text transform="translate(121.16 983.30) scale(0.9950 1)" font-size="9.59" fill="#231f20">UPNT760</text>
<line x1="150.20" y1="888.20" x2="166.30" y2="888.20" stroke="#231f20" stroke-width="1.50"/>
<polygon points="153.80,881.10 154.42,882.35 155.80,882.55 154.80,883.52 155.03,884.90 153.80,884.25 152.57,884.90 152.80,883.52 151.80,882.55 153.18,882.35" fill="#231f20"/>
<polygon points="158.25,881.10 158.87,882.35 160.25,882.55 159.25,883.52 159.48,884.90 158.25,884.25 157.02,884.90 157.25,883.52 156.25,882.55 157.63,882.35" fill="#231f20"/>
<polygon points="162.70,881.10 163.32,882.35 164.70,882.55 163.70,883.52 163.93,884.90 162.70,884.25 161.47,884.90 161.70,883.52 160.70,882.55 162.08,882.35" fill="#231f20"/>
<rect x="180.70" y="854.81" width="7.80" height="48.59" fill="#124a89"/>
<rect x="180.70" y="913.40" width="7.80" height="53.30" fill="#124a89"/>
<line x1="184.60" y1="854.81" x2="184.60" y2="854.34" stroke="#231f20" stroke-width="1.00"/>
<line x1="183.10" y1="854.34" x2="186.10" y2="854.34" stroke="#231f20" stroke-width="1.00"/>
<rect x="192.90" y="868.49" width="7.80" height="34.91" fill="#3aab36"/>
<rect x="192.90" y="913.40" width="7.80" height="53.30" fill="#3aab36"/>
<line x1="196.80" y1="868.49" x2="196.80" y2="868.09" stroke="#231f20" stroke-width="1.00"/>
<line x1="195.30" y1="868.09" x2="198.30" y2="868.09" stroke="#231f20" stroke-width="1.00"/>
<rect x="205.10" y="962.70" width="7.80" height="4.00" fill="#f68b1f"/>
<line x1="209.00" y1="962.70" x2="209.00" y2="961.37" stroke="#231f20" stroke-width="1.00"/>
<line x1="207.50" y1="961.37" x2="210.50" y2="961.37" stroke="#231f20" stroke-width="1.00"/>
<line x1="178.50" y1="971.50" x2="226.90" y2="971.50" stroke="#231f20" stroke-width="1.40"/>
<text transform="translate(181.99 983.80) scale(0.9657 1)" font-size="9.59" fill="#231f20">UPNT420</text>
<line x1="208.80" y1="888.20" x2="225.00" y2="888.20" stroke="#231f20" stroke-width="1.50"/>
<polygon points="214.68,881.10 215.29,882.35 216.67,882.55 215.67,883.52 215.91,884.90 214.68,884.25 213.44,884.90 213.68,883.52 212.68,882.55 214.06,882.35" fill="#231f20"/>
<polygon points="219.12,881.10 219.74,882.35 221.12,882.55 220.12,883.52 220.36,884.90 219.12,884.25 217.89,884.90 218.13,883.52 217.13,882.55 218.51,882.35" fill="#231f20"/>
<rect x="69.10" y="994.40" width="8.60" height="8.60" fill="#124a89"/>
<text transform="translate(82.17 1001.50) scale(1.0322 1)" font-size="10.17" fill="#231f20">Ctl</text>
<rect x="135.50" y="994.40" width="8.40" height="8.60" fill="#f68b1f"/>
<text transform="translate(149.29 1001.50) scale(0.9035 1)" font-size="10.17" fill="#231f20">Tepli</text>
<rect x="69.10" y="1009.40" width="8.60" height="8.60" fill="#3aab36"/>
<text transform="translate(81.89 1016.50) scale(0.9665 1)" font-size="10.17" fill="#231f20">Birinapant</text>
<rect x="135.50" y="1009.40" width="8.40" height="8.60" fill="#978fca"/>
<text transform="translate(149.28 1016.50) scale(0.9575 1)" font-size="10.17" fill="#231f20">Tepli + Birinapant</text>
<line x1="307.00" y1="845.70" x2="307.00" y2="967.60" stroke="#231f20" stroke-width="1.60"/>
<line x1="306.20" y1="966.80" x2="482.30" y2="966.80" stroke="#231f20" stroke-width="1.60"/>
<line x1="302.80" y1="850.90" x2="307.00" y2="850.90" stroke="#231f20" stroke-width="1.20"/>
<text transform="translate(281.86 853.70) scale(1.0200 1)" font-size="9.59" fill="#231f20">100</text>
<line x1="302.80" y1="908.85" x2="307.00" y2="908.85" stroke="#231f20" stroke-width="1.20"/>
<text transform="translate(287.30 911.65) scale(1.0200 1)" font-size="9.59" fill="#231f20">50</text>
<line x1="302.80" y1="966.80" x2="307.00" y2="966.80" stroke="#231f20" stroke-width="1.20"/>
<text transform="translate(292.74 969.60) scale(1.0200 1)" font-size="9.59" fill="#231f20">0</text>
<line x1="307.00" y1="966.80" x2="307.00" y2="971.00" stroke="#231f20" stroke-width="1.20"/>
<text transform="translate(304.44 983.70) scale(0.9300 1)" font-size="9.88" fill="#231f20">0</text>
<line x1="349.68" y1="966.80" x2="349.68" y2="971.00" stroke="#231f20" stroke-width="1.20"/>
<text transform="translate(344.52 983.70) scale(0.9300 1)" font-size="9.88" fill="#231f20">20</text>
<line x1="392.36" y1="966.80" x2="392.36" y2="971.00" stroke="#231f20" stroke-width="1.20"/>
<text transform="translate(387.32 983.70) scale(0.9300 1)" font-size="9.88" fill="#231f20">40</text>
<line x1="435.04" y1="966.80" x2="435.04" y2="971.00" stroke="#231f20" stroke-width="1.20"/>
<text transform="translate(429.87 983.70) scale(0.9300 1)" font-size="9.88" fill="#231f20">60</text>
<line x1="477.72" y1="966.80" x2="477.72" y2="971.00" stroke="#231f20" stroke-width="1.20"/>
<text transform="translate(472.59 983.70) scale(0.9300 1)" font-size="9.88" fill="#231f20">80</text>
<text transform="translate(366.12 837.80) scale(1.0263 1)" font-size="12.35" fill="#231f20">UPNT760</text>
<text transform="translate(274.30 941.30) rotate(-90) scale(0.7683 1) translate(-1.07 0)" font-size="13.08" fill="#231f20">Percent survival</text>
<text transform="translate(383.64 1001.20) scale(0.7768 1)" font-size="11.92" fill="#231f20">Days</text>
<path d="M404.60 850.90 L404.60 874.08 L408.90 874.08 L408.90 920.44 L424.20 920.44 L424.20 966.80" fill="none" stroke="#f68b1f" stroke-width="1.50" stroke-linejoin="miter"/>
<path d="M381.20 897.26 L381.20 966.80" fill="none" stroke="#1f3f70" stroke-width="1.30" stroke-linejoin="miter"/>
<path d="M381.20 850.90 L381.20 897.26 L385.50 897.26 L385.50 966.80" fill="none" stroke="#4ab04e" stroke-width="1.30" stroke-linejoin="miter"/>
<line x1="415.00" y1="905.60" x2="437.30" y2="905.60" stroke="#231f20" stroke-width="1.70"/>
<polygon points="423.97,898.50 424.59,899.75 425.97,899.95 424.97,900.92 425.21,902.30 423.97,901.65 422.74,902.30 422.98,900.92 421.98,899.95 423.36,899.75" fill="#231f20"/>
<polygon points="428.42,898.50 429.04,899.75 430.42,899.95 429.42,900.92 429.66,902.30 428.42,901.65 427.19,902.30 427.43,900.92 426.43,899.95 427.81,899.75" fill="#231f20"/>
<path d="M57.00 282.80 L218.10 282.80" fill="none" stroke="#928eb8" stroke-width="1.70" stroke-linejoin="miter"/>
<path d="M218.10 282.80 L218.10 400.00" fill="none" stroke="#928eb8" stroke-width="1.15" stroke-linejoin="miter"/>
<path d="M295.00 282.80 L465.40 282.80" fill="none" stroke="#928eb8" stroke-width="1.70" stroke-linejoin="miter"/>
<path d="M465.40 282.80 L465.40 399.80" fill="none" stroke="#928eb8" stroke-width="1.15" stroke-linejoin="miter"/>
<path d="M57.00 455.80 L210.20 455.80 L210.20 514.40 L212.50 514.40 L212.50 573.00" fill="none" stroke="#928eb8" stroke-width="1.15" stroke-linejoin="miter"/>
<path d="M295.30 456.60 L442.00 456.60 L442.00 479.96 L443.00 479.96 L443.00 573.40" fill="none" stroke="#928eb8" stroke-width="1.15" stroke-linejoin="miter"/>
<path d="M57.50 629.90 L346.70 629.90" fill="none" stroke="#928eb8" stroke-width="1.50" stroke-linejoin="miter"/>
<path d="M307.00 850.90 L440.90 850.90 L440.90 937.82 L453.90 937.82 L453.90 966.80" fill="none" stroke="#928eb8" stroke-width="1.15" stroke-linejoin="miter"/>
</svg>
</body></html>
